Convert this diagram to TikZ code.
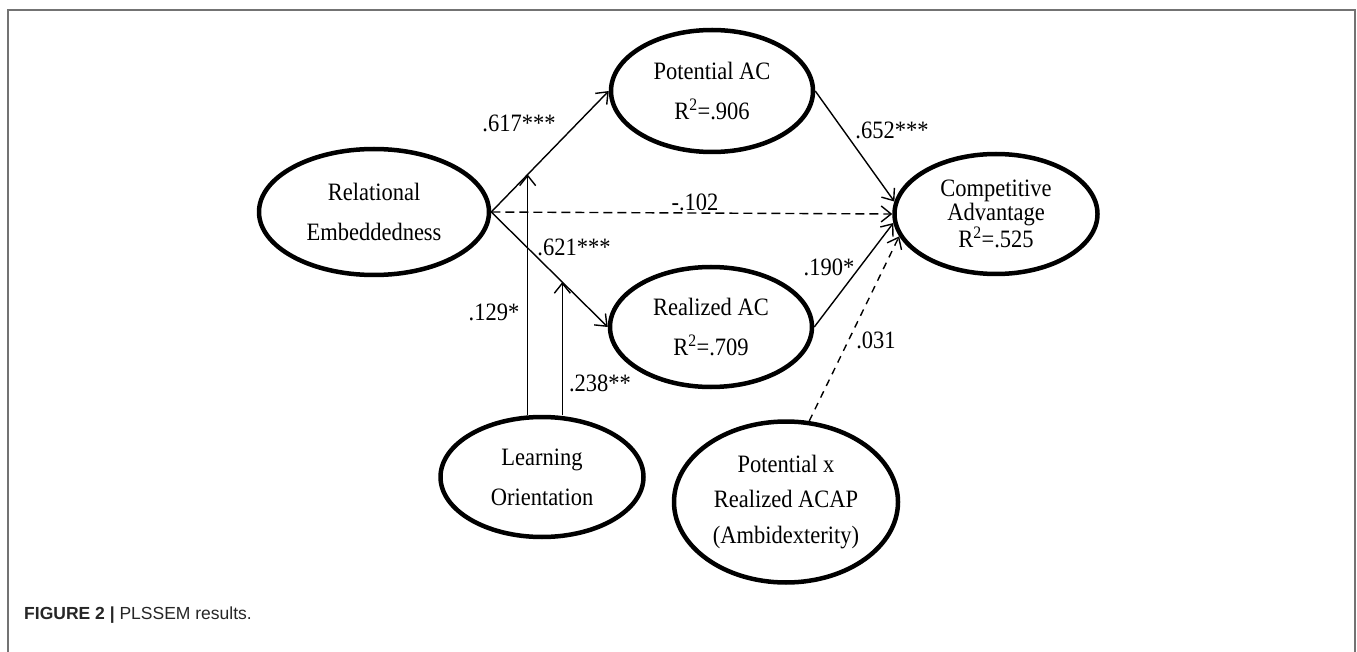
\documentclass[tikz,border=0pt]{standalone}
\usepackage{fontspec}
\setmainfont{Liberation Serif}[FakeStretch=0.9]
\newfontfamily\capfont{Liberation Sans}
\usetikzlibrary{shapes.geometric,arrows.meta,calc}
\begin{document}
\begin{tikzpicture}[x=1pt,y=-1pt,
  latent/.style={ellipse,draw,line width=4.5pt,inner sep=0pt,align=center,
    font=\fontsize{25}{40}\selectfont},
  relpath/.style={line width=1.4pt,-{Straight Barb[length=10pt,width=16pt,line width=1.4pt]}},
  nspath/.style={relpath,dash pattern=on 9pt off 5pt},
  coef/.style={font=\fontsize{25}{28}\selectfont,inner sep=0pt},
  framebox/.style={draw=black!55,line width=2pt}]
\useasboundingbox (0,0) rectangle (1357,652);
\draw[framebox] (8,652) -- (8,10) -- (1355,10) -- (1355,652);

\node[latent,minimum width=230pt,minimum height=126pt] (RE) at (374,212) {Relational\\Embeddedness};
\node[latent,minimum width=202pt,minimum height=122pt] (PotAC) at (712,91) {Potential AC\\R\textsuperscript{2}=.906};
\node[latent,minimum width=202pt,minimum height=120pt] (Realized) at (711,327) {Realized AC\\R\textsuperscript{2}=.709};
\node[latent,minimum width=203pt,minimum height=120pt,font=\fontsize{25}{24.5}\selectfont] (CA) at (996,214) {Competitive\\Advantage\\R\textsuperscript{2}=.525};
\node[latent,minimum width=203pt,minimum height=120pt] (LO) at (542,477) {Learning\\Orientation};
\node[latent,minimum width=224pt,minimum height=161pt,font=\fontsize{25}{35.5}\selectfont] (PxR) at (786,502) {Potential x\\Realized ACAP\\(Ambidexterity)};

\coordinate (m1) at ($(RE.east)!0.31!(PotAC.west)$);
\coordinate (m2) at ($(RE.east)!0.61!(Realized.west)$);

\draw[relpath] (RE.east) -- (PotAC.west);
\draw[relpath] (RE.east) -- (Realized.west);
\draw[nspath] (RE.east) -- (CA.west);
\draw[relpath] (PotAC.east) -- (CA.173);
\draw[relpath] (Realized.east) -- (CA.185);
\draw[relpath,dash pattern=on 7pt off 6pt] (PxR.74) -- (CA.193);
\draw[relpath] (m1 |- LO.north) -- (m1);
\draw[relpath] (m2 |- LO.north) -- (m2);

\node[coef] (c1) at (519,123) {.617***};
\node[coef] (c2) at (574,247) {.621***};
\node[coef] (c3) at (494,312) {.129*};
\node[coef] (c4) at (600,383) {.238**};
\node[coef] (c5) at (695,202) {-.102};
\node[coef] (c6) at (892,130) {.652***};
\node[coef] (c7) at (829,267) {.190*};
\node[coef] (c8) at (876,340) {.031};

\node[anchor=west,inner sep=0pt,font=\capfont\fontsize{17.5}{20}\selectfont,text=black!85] (cap) at (24,615) {\textbf{FIGURE 2 |} PLSSEM results.};
\end{tikzpicture}
\end{document}
